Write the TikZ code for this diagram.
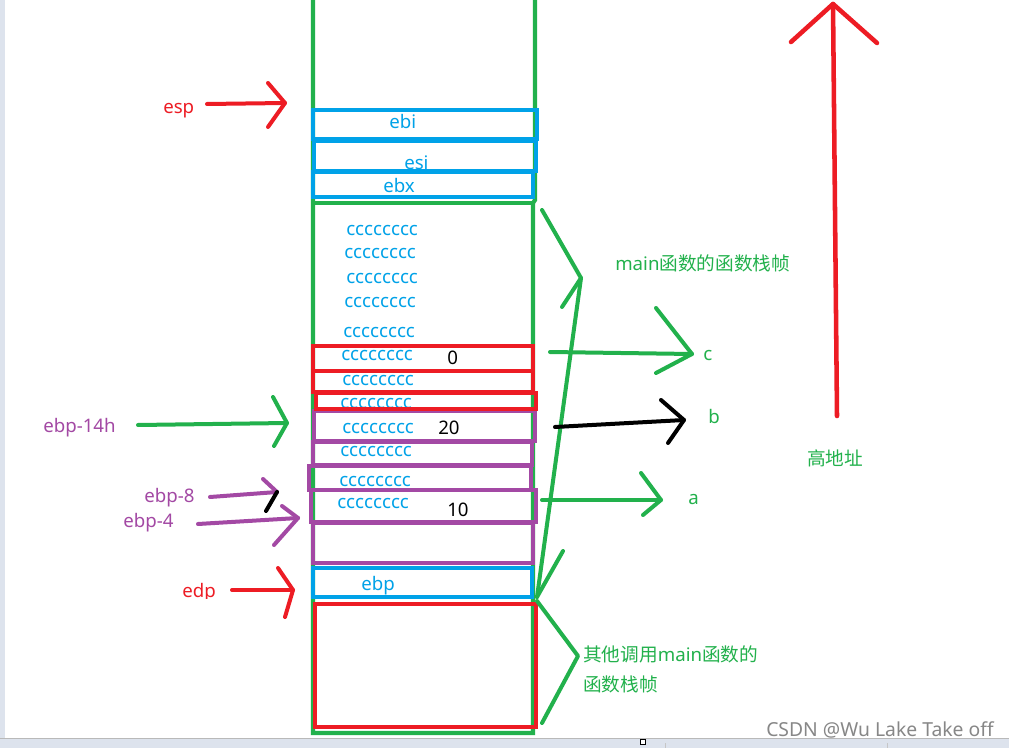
\documentclass[tikz,border=0pt]{standalone}
\usepackage{fontspec}
\setmainfont{Noto Sans}
\newfontfamily\cjk{Noto Sans CJK SC}
\definecolor{pgreen}{RGB}{34,177,76}
\definecolor{pblue}{RGB}{0,162,232}
\definecolor{pred}{RGB}{237,28,36}
\definecolor{ppurple}{RGB}{163,73,164}
\definecolor{barbg}{RGB}{221,227,237}
\definecolor{wmark}{RGB}{135,135,135}
\begin{document}
\begin{tikzpicture}[x=0.75pt,y=-0.75pt,
  box/.style={line width=3.2pt},
  arr/.style={line width=3pt,line cap=round,line join=round},
  lbl/.style={font=\fontsize{14}{16}\selectfont,inner sep=0pt,anchor=base west},
  cc/.style={lbl,text=pblue},
  num/.style={lbl,text=black}]
\useasboundingbox (0,0) rectangle (1009,748);
\fill[white] (0,0) rectangle (1009,748);
\fill[barbg] (0,0) rectangle (5,738);
% ---- texts inside the stack ----
\node[lbl,text=pblue] (tebi) at (389,129) {ebi};
\node[lbl,text=pblue] (tesi) at (404,169.5) {esi};
\node[lbl,text=pblue] (tebx) at (383,193) {ebx};
\node[cc] (c1) at (346,236) {cccccccc};
\node[cc] (c2) at (344,259) {cccccccc};
\node[cc] (c3) at (346,284) {cccccccc};
\node[cc] (c4) at (344,307) {cccccccc};
\node[cc] (c5) at (343,337) {cccccccc};
\node[cc] (c6) at (341,360) {cccccccc};
\node[cc] (c7) at (342,385) {cccccccc};
\node[cc] (c8) at (340,408) {cccccccc};
\node[cc] (c9) at (342,433) {cccccccc};
\node[cc] (c10) at (340,456) {cccccccc};
\node[cc] (c11) at (339,486) {cccccccc};
\node[cc] (c12) at (337,508) {cccccccc};
\node[num] (n0) at (447,364) {0};
\node[num] (n20) at (438,434) {20};
\node[num] (n10) at (447,516) {10};
\node[lbl,text=pblue] (tebp) at (361,590) {ebp};
% ---- stack column ----
\draw[box,pgreen] (313,-5) -- (313,733) -- (533,733) -- (533,203) -- (535,200) -- (535,-5);
\draw[box,pgreen] (313,203) -- (535,203);
% purple cells
\draw[box,ppurple] (314,411) rectangle (535,441);
\draw[box,ppurple] (313,442) rectangle (532,465);
\draw[box,ppurple] (309,466) rectangle (531,490);
\draw[box,ppurple] (311,490) rectangle (536,522);
\draw[box,ppurple] (313,523) rectangle (533,563);
% red cells
\draw[box,pred] (313,346) rectangle (533,371);
\draw[box,pred] (313,371) rectangle (533,392);
\draw[box,pred] (316,393) rectangle (536,409);
\draw[box,pred] (315,604) rectangle (536,727);
% blue cells
\draw[box,pblue] (313,110) rectangle (537,139);
\draw[box,pblue] (314,141) rectangle (536,171);
\draw[box,pblue] (313,172) rectangle (533,197);
\draw[box,pblue] (313,568) rectangle (532,597);
% ---- left labels and arrows ----
\node[lbl,text=pred] (tesp) at (163,114) {esp};
\node[lbl,text=ppurple] (t14h) at (43,432) {ebp-14h};
\node[lbl,text=ppurple] (t8) at (144,502) {ebp-8};
\node[lbl,text=ppurple] (t4) at (123,527) {ebp-4};
\begin{scope}
\clip (0,0) rectangle (1009,598);
\node[lbl,text=pred] (tedp) at (182,597) {edp};
\end{scope}
% esp arrow
\coordinate (espS) at (207,104); \coordinate (espT) at (285,103);
\coordinate (espU) at (268,83); \coordinate (espD) at (268,127);
\draw[arr,pred] (espS) -- (espT);
\draw[arr,pred] (espU) -- (espT) -- (espD);
% ebp-14h arrow
\coordinate (hS) at (138,425); \coordinate (hT) at (287,423);
\coordinate (hU) at (273,397); \coordinate (hD) at (274,446);
\draw[arr,pgreen] (hS) -- (hT);
\draw[arr,pgreen] (hU) -- (hT) -- (hD);
% ebp-8 arrow
\coordinate (eS) at (210,497); \coordinate (eT) at (277,492);
\coordinate (eU) at (263,479); \coordinate (eD) at (266,511);
\draw[arr,ppurple] (eS) -- (eT);
\draw[arr,ppurple] (eU) -- (eT);
\draw[arr,black] (eD) -- (eT);
% ebp-4 arrow
\coordinate (fS) at (198,524); \coordinate (fT) at (298,518);
\coordinate (fU) at (282,506); \coordinate (fD) at (274,545);
\draw[arr,ppurple] (fS) -- (fT);
\draw[arr,ppurple] (fU) -- (fT) -- (fD);
% edp arrow
\coordinate (dS) at (232,590); \coordinate (dT) at (293,590);
\coordinate (dU) at (278,568); \coordinate (dD) at (285,617);
\draw[arr,pred] (dS) -- (dT);
\draw[arr,pred] (dU) -- (dT) -- (dD);
% ---- right braces ----
\coordinate (m1) at (542,210); \coordinate (mtip) at (581,278);
\coordinate (m3) at (537,597); \coordinate (m4) at (562,307);
\coordinate (m5) at (563,551);
\draw[arr,pgreen] (m1) -- (mtip) -- (m3);
\draw[arr,pgreen] (m4) -- (mtip);
\draw[arr,pgreen] (m5) -- (m3);
\coordinate (o1) at (537,601); \coordinate (otip) at (578,656);
\coordinate (o2) at (542,723);
\draw[arr,pgreen] (o1) -- (otip) -- (o2);
\node[lbl,text=pgreen] (tmain) at (615,271) {main{\cjk 函数的函数栈帧}};
\node[lbl,text=pgreen] (tother1) at (583,661) {{\cjk 其他调用}main{\cjk 函数的}};
\node[lbl,text=pgreen] (tother2) at (583,691) {\cjk 函数栈帧};
% c arrow
\coordinate (cS) at (550,352); \coordinate (cT) at (692,354);
\coordinate (cU) at (656,308); \coordinate (cD) at (656,373);
\draw[arr,pgreen] (cS) -- (cT);
\draw[arr,pgreen] (cU) -- (cT) -- (cD);
\node[lbl,text=pgreen] (tc) at (703,360) {c};
% b arrow
\coordinate (bS) at (555,427); \coordinate (bT) at (684,420);
\coordinate (bU) at (661,400); \coordinate (bD) at (668,443);
\draw[arr,black] (bS) -- (bT);
\draw[arr,black] (bU) -- (bT) -- (bD);
\node[lbl,text=pgreen] (tb) at (708,423) {b};
% a arrow
\coordinate (aS) at (542,500); \coordinate (aT) at (661,500);
\coordinate (aU) at (641,473); \coordinate (aD) at (643,515);
\draw[arr,pgreen] (aS) -- (aT);
\draw[arr,pgreen] (aU) -- (aT) -- (aD);
\node[lbl,text=pgreen] (ta) at (688,504) {a};
% high address arrow
\coordinate (hiS) at (837,416); \coordinate (hiT) at (833,4);
\coordinate (hiL) at (791,42); \coordinate (hiR) at (877,43);
\draw[arr,pred,line width=3.4pt] (hiS) -- (hiT);
\draw[arr,pred,line width=3.4pt] (hiL) -- (hiT) -- (hiR);
\node[lbl,text=pgreen] (thi) at (807,465) {\cjk 高地址};
% ---- window bits ----
\fill[barbg] (0,738) rectangle (1009,748);
\draw[gray!55,line width=0.75pt] (0,738.5) -- (1009,738.5);
\draw[gray!45,line width=0.6pt] (665,743) -- (665,748);
\draw[gray!45,line width=0.6pt] (887,743) -- (887,748);
\draw[black,line width=0.6pt,fill=white] (640,739) rectangle (645,744);
\node[lbl,text=wmark,font=\fontsize{14.5}{16}\selectfont] (wm) at (766,736) {CSDN @Wu Lake Take off};
\end{tikzpicture}
\end{document}
